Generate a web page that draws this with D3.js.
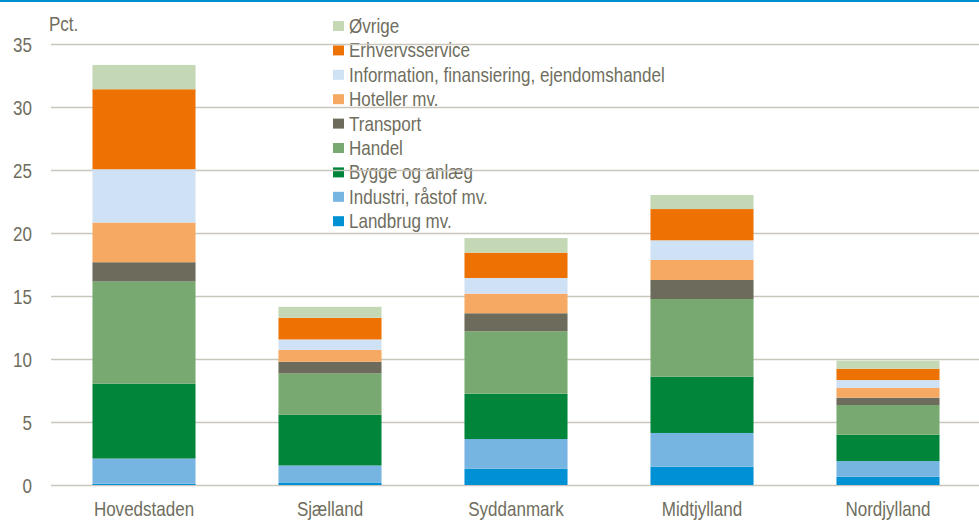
<!DOCTYPE html>
<html><head><meta charset="utf-8">
<script src="https://cdn.jsdelivr.net/npm/d3@7"></script>
<style>body{margin:0;background:#fff;}svg{display:block;font-family:"Liberation Sans",Arial,sans-serif;}</style>
</head><body>
<svg id="c" width="979" height="520"></svg>
<script>
const regions = ["Hovedstaden","Sjælland","Syddanmark","Midtjylland","Nordjylland"];
const seriesNames = ["Landbrug mv.","Industri, råstof mv.","Bygge og anlæg","Handel","Transport","Hoteller mv.","Information, finansiering, ejendomshandel","Erhvervsservice","Øvrige"];
const seriesColors = ["#0090d4","#76b4e2","#00853a","#78a970","#6d6b5b","#f5a962","#cfe1f5","#ee7203","#c5d8b6"];
const landbrug    = [0.10, 0.20, 1.30, 1.45, 0.66];
const industri    = [2.00, 1.35, 2.35, 2.68, 1.24];
const bygge       = [5.95, 4.02, 3.60, 4.47, 2.09];
const handel      = [8.10, 3.28, 4.95, 6.16, 2.36];
const transport   = [1.53, 0.93, 1.43, 1.51, 0.58];
const hoteller    = [3.15, 0.95, 1.56, 1.59, 0.79];
const information = [4.23, 0.82, 1.24, 1.56, 0.61];
const erhverv     = [6.35, 1.72, 2.01, 2.48, 0.90];
const oevrige     = [1.93, 0.87, 1.16, 1.12, 0.64];
const yTicks = [0,5,10,15,20,25,30,35];

const seriesValues = [landbrug,industri,bygge,handel,transport,hoteller,information,erhverv,oevrige];
const table = regions.map((r,i)=>{const o={region:r};seriesNames.forEach((s,j)=>o[s]=seriesValues[j][i]);return o;});
const stack = d3.stack().keys(seriesNames)(table);

const svg = d3.select("#c");
const textCol = "#6f6e5e";
const gridCol = "#c9c7bd";
const FF = "Liberation Sans, Arial, sans-serif";
const FS = 20.5;
const SX = 0.83; // horizontal condensing

svg.append("rect").attr("x",0).attr("y",0).attr("width",979).attr("height",2).attr("fill","#0090d0");

const x = d3.scaleBand().domain(regions).range([51,981]).paddingInner(0.446).paddingOuter(0.223);
const y = d3.scaleLinear().domain([0,35]).range([485,44]);

function label(parent, tx, ty, str, anchor){
  return parent.append("g").attr("transform",`translate(${tx},${ty})`)
    .append("text").attr("transform",`scale(${SX},1)`)
    .attr("text-anchor",anchor||"start").attr("font-size",FS).attr("font-family",FF)
    .attr("fill",textCol).text(str);
}

// legend (drawn first so gridlines pass over it)
const leg = svg.append("g");
seriesNames.slice().reverse().forEach((s,i)=>{
  const idx = seriesNames.length-1-i;
  const base = 33 + i*24.4;
  leg.append("rect").attr("x",333).attr("y",base-12).attr("width",11).attr("height",10).attr("fill",seriesColors[idx]);
  label(leg, 349, base, s);
});

// grid
const yAxis = d3.axisLeft(y).tickValues(yTicks).tickSize(-(979-51)).tickFormat(d3.format("d"));
const ga = svg.append("g").attr("transform","translate(51,0)").call(yAxis);
ga.select(".domain").remove();
ga.selectAll(".tick line").attr("stroke",gridCol).attr("stroke-width",1.5);
ga.selectAll(".tick text").remove();
ga.selectAll(".tick").each(function(d){ label(d3.select(this), -19, 7, d3.format("d")(d), "end"); });

label(svg, 49, 31, "Pct.");

// bars
svg.append("g").selectAll("g").data(stack).join("g")
  .attr("fill",(d,i)=>seriesColors[i])
  .selectAll("rect").data(d=>d).join("rect")
  .attr("x",d=>x(d.data.region))
  .attr("width",x.bandwidth())
  .attr("y",d=>y(d[1]))
  .attr("height",d=>y(d[0])-y(d[1]));

// x axis
const xAxis = d3.axisBottom(x).tickSize(0);
const gx = svg.append("g").attr("transform","translate(0,485)").call(xAxis);
gx.select(".domain").remove();
gx.selectAll(".tick text").remove();
gx.selectAll(".tick").each(function(d){ label(d3.select(this), 0, 31, d, "middle"); });
</script>
</body></html>
